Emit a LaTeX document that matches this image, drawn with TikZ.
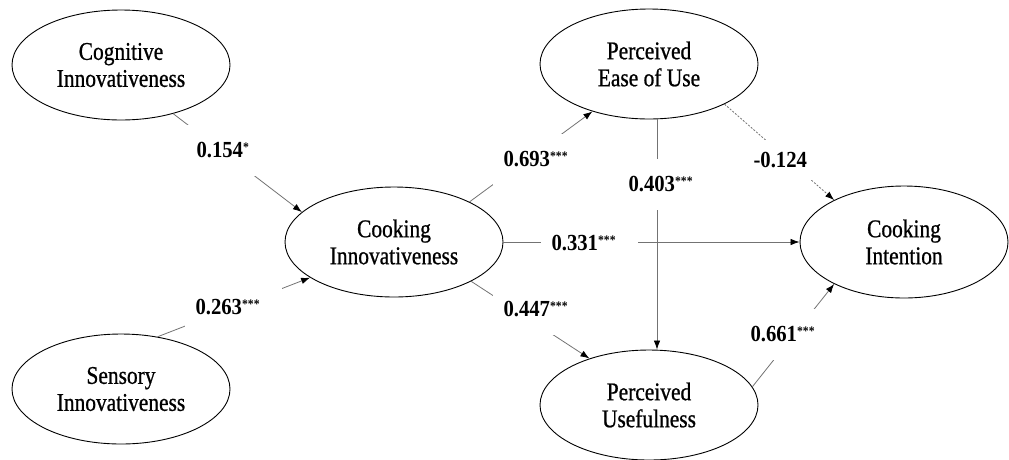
\documentclass[tikz,border=0pt]{standalone}
\usepackage{fontspec}
\setmainfont{Liberation Serif}
\newfontfamily\ellfont[FakeStretch=0.84,UprightFeatures={FakeBold=0.8}]{Liberation Serif}
\newfontfamily\labfont[FakeStretch=0.9]{Liberation Serif}
\usetikzlibrary{shapes.geometric,arrows.meta}
\newcommand{\stars}[1]{{\fontsize{13}{13}\selectfont\raisebox{6pt}{#1}}}
\begin{document}
\begin{tikzpicture}[x=1pt,y=-1pt,
  construct/.style={ellipse,draw=black,line width=0.9pt,minimum width=218pt,minimum height=110pt,inner sep=0pt,align=center,font=\ellfont\fontsize{25.5}{27}\selectfont},
  conn/.style={draw=black!55,line width=0.8pt,-{Latex[length=9pt,width=6.5pt,black]}},
  coef/.style={fill=white,inner xsep=11pt,inner ysep=0pt,minimum height=51pt,text width=75pt,align=left,font=\labfont\bfseries\fontsize{23}{24}\selectfont},
]
\useasboundingbox (0,0) rectangle (1009,459);

\node[construct] (cog) at (121,65) {Cognitive\\Innovativeness};
\node[construct] (sen) at (121,389) {Sensory\\Innovativeness};
\node[construct] (cook) at (394,242) {Cooking\\Innovativeness};
\node[construct] (peou) at (649,64) {Perceived\\Ease of Use};
\node[construct] (pu) at (649,405) {Perceived\\Usefulness};
\node[construct,minimum width=208pt,minimum height=112pt] (ci) at (904,242) {Cooking\\Intention};

\coordinate (vx) at (657,0);
\draw[conn] (cog.-43) -- (cook.162);
\draw[conn] (sen.55) -- (cook.-157);
\draw[conn] (cook.28) -- (peou.-140);
\draw[conn] (cook.east) -- (ci.west);
\draw[conn] (cook.-27) -- (pu.142);
\draw[conn] (peou.south -| vx) -- (pu.north -| vx);
\draw[conn,dash pattern=on 2pt off 1.5pt] (peou.-28) -- (ci.149);
\draw[conn] (pu.10) -- (ci.-149);

\node[coef] (l1) at (234,150) {0.154\stars{*}};
\node[coef] (l2) at (233,307) {0.263\stars{***}};
\node[coef] (l3) at (541,159) {0.693\stars{***}};
\node[coef] (l4) at (589,243) {0.331\stars{***}};
\node[coef] (l5) at (541,309) {0.447\stars{***}};
\node[coef] (l6) at (666,184) {0.403\stars{***}};
\node[coef,text width=57pt,minimum height=40pt] (l7) at (782,160) {-0.124};
\node[coef] (l8) at (788,334) {0.661\stars{***}};
\end{tikzpicture}
\end{document}
